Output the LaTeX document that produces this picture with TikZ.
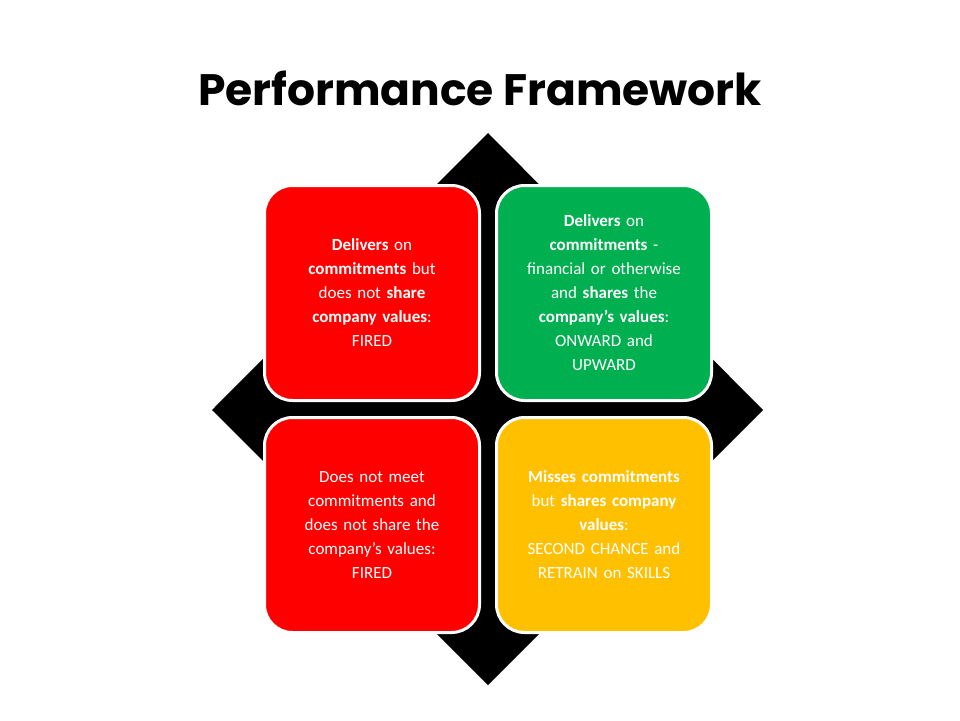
\documentclass[tikz,border=0pt]{standalone}
\usepackage{fontspec}
\setmainfont{Carlito}
\newfontfamily\titlefont{Poppins}
\definecolor{pf_red}{RGB}{255,0,0}
\definecolor{pf_green}{RGB}{0,176,80}
\definecolor{pf_yellow}{RGB}{255,192,0}
\tikzset{
  quadbox/.style={shape=rectangle,draw=white,line width=3pt,rounded corners=28pt,
    minimum width=215pt,minimum height=215pt,text width=190pt,align=center,
    text=white,font=\fontsize{17pt}{24pt}\selectfont},
}
\begin{document}
\begin{tikzpicture}[x=1pt,y=-1pt]
    \useasboundingbox (0,0) rectangle (960,720);
    \node[font=\titlefont\bfseries\fontsize{44pt}{50pt}\selectfont] (title) at (480,88) {Performance Framework};
    % black diamond behind the four boxes
    \fill[black] (488,133) -- (763,410) -- (488,685) -- (212,410) -- cycle;
    \node[quadbox,fill=pf_red] (tl) at (372,293) {\textbf{Delivers} on\\ \textbf{commitments} but\\ does not \textbf{share}\\ \textbf{company values}:\\ FIRED};
    \node[quadbox,fill=pf_green] (tr) at (604,293) {\textbf{Delivers} on\\ \textbf{commitments} -\\ financial or otherwise\\ and \textbf{shares} the\\ \textbf{company's values}:\\ ONWARD and\\ UPWARD};
    \node[quadbox,fill=pf_red] (bl) at (372,525) {Does not meet\\ commitments and\\ does not share the\\ company's values:\\ FIRED};
    \node[quadbox,fill=pf_yellow] (br) at (604,525) {\textbf{Misses commitments}\\ but \textbf{shares company}\\ \textbf{values}:\\ SECOND CHANCE and\\ RETRAIN on SKILLS};
\end{tikzpicture}
\end{document}
